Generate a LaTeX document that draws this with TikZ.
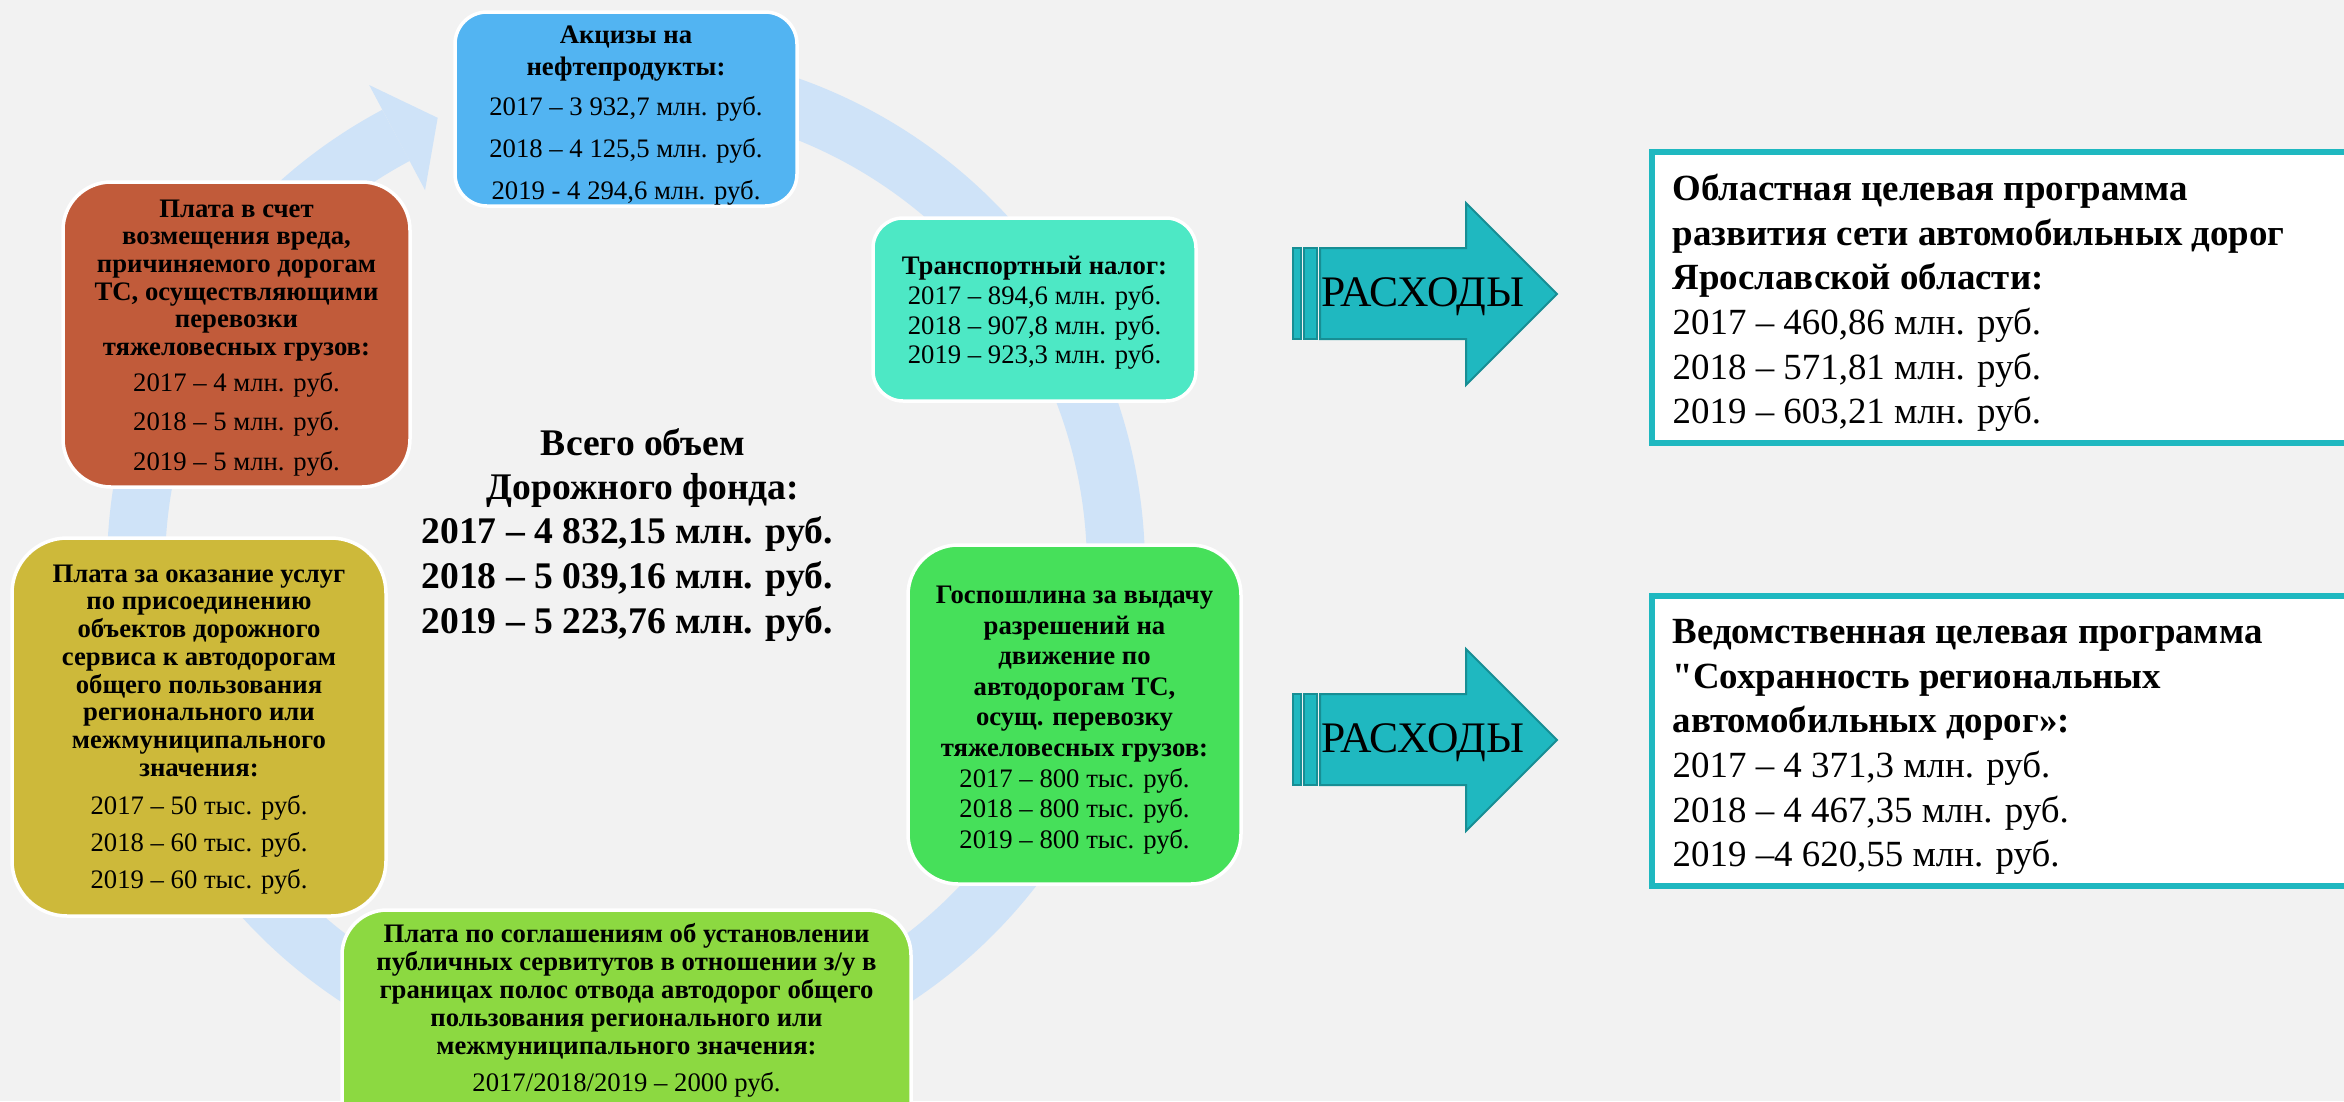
\documentclass[tikz,border=0pt]{standalone}
\usepackage{fontspec}
\setmainfont{Liberation Serif}
\usetikzlibrary{calc}
\definecolor{bgc}{HTML}{F2F2F2}
\definecolor{ringcol}{HTML}{CFE3F8}
\definecolor{bluec}{HTML}{52B4F2}
\definecolor{turqc}{HTML}{4DE8C5}
\definecolor{brownc}{HTML}{C15B3A}
\definecolor{yellowc}{HTML}{CDB93A}
\definecolor{greenc}{HTML}{46E05A}
\definecolor{lgreenc}{HTML}{8CD941}
\definecolor{tealc}{HTML}{1FB8C0}
\definecolor{tealdark}{HTML}{178E94}
\begin{document}
\begin{tikzpicture}[x=0.1mm,y=-0.1mm,
  cbox/.style={draw=white, line width=0.35mm, inner sep=0pt},
  txt/.style={align=center, inner sep=0pt, text=black},
  progbox/.style={draw=tealc, line width=0.6mm, fill=white, inner sep=0pt},
  ptxt/.style={align=left, inner sep=0pt, anchor=west, font=\fontsize{10.5pt}{12.7pt}\selectfont},
  arr/.style={fill=tealc, draw=tealdark, line width=0.2mm},
  rtxt/.style={anchor=base, inner sep=0pt, font=\fontsize{12.4pt}{14pt}\selectfont}]
\useasboundingbox (0,0) rectangle (2344,1101);
\fill[bgc] (0,0) rectangle (2344,1101);
% circular arrow
\coordinate (c) at (626,568);
\draw[ringcol, line width=5.8mm] (c) ++(95:49mm) arc[start angle=95, end angle=-242, radius=49mm];
\fill[ringcol] ($(c)+(118:54.7mm)$) -- ($(c)+(112.7:48.8mm)$) -- ($(c)+(118:42.8mm)$) -- cycle;
% boxes
\node[cbox, fill=bluec, rounded corners=3.2mm, minimum width=34.2mm, minimum height=19.4mm] (bA) at (626,109) {};
\node[cbox, fill=turqc, rounded corners=3mm, minimum width=32.3mm, minimum height=18.3mm] (bT) at (1034.5,309.5) {};
\node[cbox, fill=brownc, rounded corners=4.8mm, minimum width=34.7mm, minimum height=30.5mm] (bB) at (236.5,334.5) {};
\node[cbox, fill=yellowc, rounded corners=5.5mm, minimum width=37.4mm, minimum height=37.8mm] (bY) at (199,727) {};
\node[cbox, fill=greenc, rounded corners=5mm, minimum width=33.3mm, minimum height=33.9mm] (bG) at (1074.5,714.5) {};
\node[cbox, fill=lgreenc, rounded corners=4.5mm, minimum width=56.9mm, minimum height=27mm] (bL) at (626.5,1045) {};
% texts
\node[txt, font=\fontsize{7.6pt}{9.1pt}\selectfont] (tA) at (626,116) {\textbf{Акцизы на}\\\textbf{нефтепродукты:}\\[2.3pt]2017 – 3 932,7 млн. руб.\\[2.85pt]2018 – 4 125,5 млн. руб.\\[2.85pt]2019 - 4 294,6 млн. руб.};
\node[txt, font=\fontsize{7.6pt}{8.45pt}\selectfont] (tT) at (1034.5,313) {\textbf{Транспортный налог:}\\2017 – 894,6 млн. руб.\\2018 – 907,8 млн. руб.\\2019 – 923,3 млн. руб.};
\node[txt, font=\fontsize{7.6pt}{7.85pt}\selectfont] (tB) at (236.5,338) {\textbf{Плата в счет}\\\textbf{возмещения вреда,}\\\textbf{причиняемого дорогам}\\\textbf{ТС, осуществляющими}\\\textbf{перевозки}\\\textbf{тяжеловесных грузов:}\\[2.4pt]2017 – 4 млн. руб.\\[3.4pt]2018 – 5 млн. руб.\\[3.4pt]2019 – 5 млн. руб.};
\node[txt, font=\fontsize{7.6pt}{7.9pt}\selectfont] (tY) at (199,729.5) {\textbf{Плата за оказание услуг}\\\textbf{по присоединению}\\\textbf{объектов дорожного}\\\textbf{сервиса к автодорогам}\\\textbf{общего пользования}\\\textbf{регионального или}\\\textbf{межмуниципального}\\\textbf{значения:}\\[3.05pt]2017 – 50 тыс. руб.\\[2.6pt]2018 – 60 тыс. руб.\\[2.6pt]2019 – 60 тыс. руб.};
\node[txt, font=\fontsize{7.6pt}{8.7pt}\selectfont] (tG) at (1074.5,720) {\textbf{Госпошлина за выдачу}\\\textbf{разрешений на}\\\textbf{движение по}\\\textbf{автодорогам ТС,}\\\textbf{осущ. перевозку}\\\textbf{тяжеловесных грузов:}\\2017 – 800 тыс. руб.\\2018 – 800 тыс. руб.\\2019 – 800 тыс. руб.};
\node[txt, font=\fontsize{7.6pt}{8pt}\selectfont] (tL) at (626.5,1010) {\textbf{Плата по соглашениям об установлении}\\\textbf{публичных сервитутов в отношении з/у в}\\\textbf{границах полос отвода автодорог общего}\\\textbf{пользования регионального или}\\\textbf{межмуниципального значения:}\\[2.4pt]2017/2018/2019 – 2000 руб.};
\node[txt, font=\bfseries\fontsize{10.7pt}{12.7pt}\selectfont] (tH) at (643,468) {Всего объем\\Дорожного фонда:};
\node[txt, font=\bfseries\fontsize{10.7pt}{12.7pt}\selectfont] (tN) at (627,579) {2017 – 4 832,15 млн. руб.\\2018 – 5 039,16 млн. руб.\\2019 – 5 223,76 млн. руб.};
% expense arrows
\filldraw[arr] (1293,248) rectangle (1301,339);
\filldraw[arr] (1304,248) rectangle (1317,339);
\filldraw[arr] (1320,248) -- (1466,248) -- (1466,203) -- (1557,294) -- (1466,385) -- (1466,339) -- (1320,339) -- cycle;
\node[rtxt] (r1) at (1423,306) {РАСХОДЫ};
\filldraw[arr] (1293,694) rectangle (1301,785);
\filldraw[arr] (1304,694) rectangle (1317,785);
\filldraw[arr] (1320,694) -- (1466,694) -- (1466,649) -- (1557,740) -- (1466,831) -- (1466,785) -- (1320,785) -- cycle;
\node[rtxt] (r2) at (1423,752) {РАСХОДЫ};
% program boxes
\node[progbox, minimum width=75mm, minimum height=29.1mm] (p1) at (2027,297.5) {};
\node[progbox, minimum width=75mm, minimum height=29mm] (p2) at (2027,741) {};
\node[ptxt] (pt1) at (1672,303) {\textbf{Областная целевая программа}\\\textbf{развития сети автомобильных дорог}\\\textbf{Ярославской области:}\\2017 – 460,86 млн. руб.\\2018 – 571,81 млн. руб.\\2019 – 603,21 млн. руб.};
\node[ptxt] (pt2) at (1672,747) {\textbf{Ведомственная целевая программа}\\\textbf{{\addfontfeatures{Ligatures=TeXOff}"}Сохранность региональных}\\\textbf{автомобильных дорог»:}\\2017 – 4 371,3 млн. руб.\\2018 – 4 467,35 млн. руб.\\2019 –4 620,55 млн. руб.};
\end{tikzpicture}
\end{document}
